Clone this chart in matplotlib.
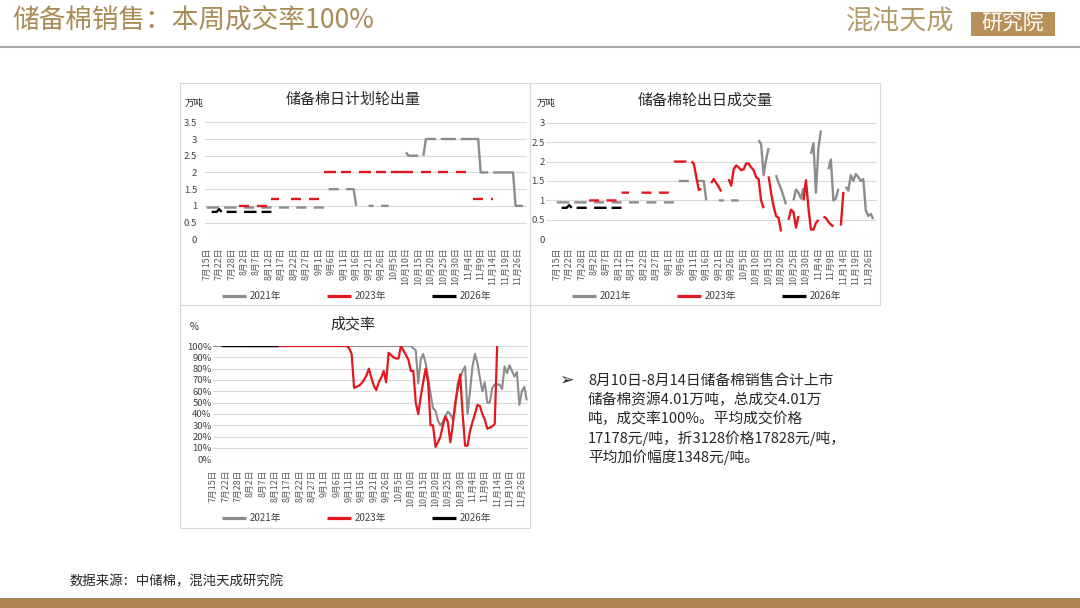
import numpy as np
import matplotlib
matplotlib.use('Agg')
import matplotlib.pyplot as plt
from matplotlib.lines import Line2D
from matplotlib.patches import Rectangle

plt.rcParams['font.family'] = ['Noto Sans CJK SC', 'DejaVu Sans']

W, H = 1080, 608
N = 128  # daily slots, 7/15 .. end of Nov

tick_labels = ['7月15日', '7月22日', '7月28日', '8月2日', '8月7日', '8月12日', '8月17日',
               '8月22日', '8月27日', '9月1日', '9月6日', '9月11日', '9月16日', '9月21日',
               '9月26日', '10月5日', '10月10日', '10月15日', '10月20日', '10月25日',
               '10月30日', '11月4日', '11月9日', '11月14日', '11月19日', '11月26日']

years = ['2021年', '2023年', '2026年']
colors = ['#8c8c8c', '#e3181f', '#000000']

# values per day; (value, count) = same value repeated, None = no auction that day
plan_2021 = [(0.95, 6), None, (0.95, 6), (None, 2), (0.95, 5), (None, 2), (0.95, 5), (None, 2),
             (0.95, 5), (None, 2), (0.95, 5), (None, 2), (0.95, 5), None,
             (1.5, 5), (None, 2), (1.5, 4), 1.0, (None, 4), (1.0, 3), (None, 2), (1.0, 4),
             (None, 6), 2.6, (2.5, 5), None, 2.5, (3.0, 5), None, (3.0, 7), None, (3.0, 8),
             (2.0, 4), None, (2.0, 9), (1.0, 4)]
plan_2023 = [(None, 13), (1.0, 5), (None, 2), (1.0, 5), None, (1.2, 4), (None, 4), (1.2, 5),
             (None, 2), (1.2, 5), None, (2.0, 6), None, (2.0, 5), (None, 2), (2.0, 6), None,
             (2.0, 5), None, (2.0, 10), (None, 2), (2.0, 5), (None, 2), (2.0, 5), (None, 2),
             (2.0, 5), (None, 2), (1.2, 5), (None, 2), (1.2, 2), (None, 12)]
plan_2026 = [(None, 2), 0.82, 0.82, 0.82, 0.9, 0.82, None, (0.82, 5), (None, 2), (0.82, 6),
             None, (0.82, 5), (None, 101)]

deal_2021 = [(0.95, 6), None, (0.95, 6), (None, 2), (0.95, 5), (None, 2), (0.95, 5), (None, 2),
             (0.95, 5), (None, 2), (0.95, 5), (None, 2), (0.95, 5), None,
             (1.5, 5), (None, 2), (1.5, 4), 1.0, (None, 4), (1.0, 3), (None, 2), (1.0, 4),
             (None, 7),
             2.55, 2.45, 1.65, 2.05, 2.35, (None, 2),
             1.65, 1.45, 1.3, 1.1, 0.9, (None, 2),
             1.0, 1.28, 1.2, 1.05, 1.32, (None, 2),
             2.2, 2.47, 1.2, 2.35, 2.8, (None, 2),
             1.8, 2.05, 1.0, 1.05, 1.3, (None, 2),
             1.35, 1.25, 1.65, 1.5, 1.68, 1.6, 1.5, 1.55, 0.75, 0.6, 0.65, 0.52]
deal_2023 = [(None, 13), (1.0, 5), (None, 2), (1.0, 5), None, (1.2, 4), (None, 4), (1.2, 5),
             (None, 2), (1.2, 5), None, (2.0, 6), None,
             2.0, 1.95, 1.6, 1.27, 1.3, (None, 3),
             1.45, 1.55, 1.45, 1.35, 1.23, (None, 2),
             1.55, 1.38, 1.8, 1.9, 1.85, 1.78, 1.8, 1.95, 1.95, 1.85, 1.78, 1.6, 1.55, 1.0, 0.8,
             None, 1.62, 1.2, 0.85, 0.6, 0.55, 0.2, (None, 2),
             0.5, 0.76, 0.7, 0.3, 0.6, None,
             1.0, 1.52, 0.8, 0.25, 0.25, 0.42, 0.5, None,
             0.58, 0.55, 0.45, 0.38, 0.33, (None, 2),
             0.35, 1.22, (None, 12)]
deal_2026 = [(None, 2), 0.81, 0.81, 0.81, 0.88, 0.81, None, (0.81, 5), (None, 2), (0.81, 6),
             None, (0.81, 5), (None, 101)]

rate_2021 = [(100, 81), 98, 96, 67, 88, 93, 85, 72, 58, 45, 43, 34, 30, 33, 38, 42, 40, 35, 45,
             67, 72, 78, 82, 40, 60, 82, 93, 85, 72, 60, 68, 50, 50, 63, 66, 66, 66, 62, 82, 76,
             83, 78, 73, 77, 48, 60, 64, 52]
rate_2023 = [(None, 13), (100, 42), 98, 93, 63, 64, 65, 67, 70, 74, 80, 72, 65, 61, 68, 72, 78,
             68, 94, 92, 90, 89, 89, 100, 96, 92, 88, 78, 78, 50, 40, 55, 68, 80, 68, 30, 30, 11,
             15, 20, 30, 38, 33, 15, 30, 50, 62, 75, 40, 12, 12, 25, 33, 40, 48, 47, 40, 35, 27,
             28, 29, 31, 100, (None, 12)]
rate_2026 = [(None, 3), (100, 24), (None, 101)]

text_lines = ['8月10日-8月14日储备棉销售合计上市',
              '储备棉资源4.01万吨，总成交4.01万',
              '吨，成交率100%。平均成交价格',
              '17178元/吨，折3128价格17828元/吨，',
              '平均加价幅度1348元/吨。']


def expand(runs):
    out = []
    for r in runs:
        if isinstance(r, tuple):
            out += [r[0]] * r[1]
        else:
            out.append(r)
    assert len(out) == N, len(out)
    return np.array([np.nan if v is None else v for v in out], dtype=float)


def fx(px):
    return px / W


def fy(py):
    return 1 - py / H


x = np.arange(N)
fig = plt.figure(figsize=(W / 100, H / 100), dpi=100)


def make_axes(l, t, r, b):
    return fig.add_axes([fx(l), fy(b), (r - l) / W, (b - t) / H])


def draw_chart(ax, series, widths, xlim, yticks, ylabels, ypad, xpad):
    for s, c, lw in zip(series, colors, widths):
        ax.plot(x, expand(s), color=c, lw=lw, solid_capstyle='butt', solid_joinstyle='round')
    ax.set_xlim(*xlim)
    ax.set_ylim(yticks[0], yticks[-1])
    for sp in ax.spines.values():
        sp.set_visible(False)
    ax.set_yticks(yticks)
    ax.set_yticklabels(ylabels)
    ax.yaxis.grid(True, color='#d9d9d9', lw=0.8)
    ax.set_axisbelow(True)
    ax.set_xticks(x[::5])
    ax.set_xticklabels(tick_labels, rotation=90)
    ax.tick_params(axis='x', length=0, labelsize=6.4, labelcolor='#595959', pad=xpad)
    ax.tick_params(axis='y', length=0, labelsize=6.8, labelcolor='#404040', pad=ypad)


def legend_at(px, py):
    handles = [Line2D([], [], color=c, lw=2.3, solid_capstyle='butt') for c in colors]
    fig.legend(handles, years, loc='center left', bbox_to_anchor=(fx(px), fy(py)),
               frameon=False, ncol=3, fontsize=7, handlelength=2.5, handletextpad=0.35,
               columnspacing=4.7, borderpad=0, borderaxespad=0, labelcolor='#404040')


# panel frames
for l, t, r, b in [(180, 83, 530, 305), (530, 83, 880, 305), (180, 305, 530, 528)]:
    fig.add_artist(Rectangle((fx(l), fy(b)), (r - l) / W, (b - t) / H, transform=fig.transFigure,
                             fill=False, ec='#d9d9d9', lw=0.8))

# chart 1: planned daily volume
ax1 = make_axes(205, 122.3, 527, 239.3)
yt1 = [0, 0.5, 1, 1.5, 2, 2.5, 3, 3.5]
draw_chart(ax1, [plan_2021, plan_2023, plan_2026], [1.7, 1.7, 1.7], (-0.7, 128.6),
           yt1, ['0', '0.5', '1', '1.5', '2', '2.5', '3', '3.5'], 5.8, 6.0)
fig.text(fx(353), fy(100), '储备棉日计划轮出量', fontsize=10.8, color='#262626', weight='medium',
         ha='center', va='center')
fig.text(fx(185), fy(103.5), '万吨', fontsize=6.8, color='#262626', ha='left', va='center')
legend_at(222, 296)

# chart 2: daily deal volume
ax2 = make_axes(546, 122.7, 877, 239.3)
yt2 = [0, 0.5, 1, 1.5, 2, 2.5, 3]
draw_chart(ax2, [deal_2021, deal_2023, deal_2026], [1.7, 1.7, 1.7], (-4.3, 128.5),
           yt2, ['0', '0.5', '1', '1.5', '2', '2.5', '3'], 1.0, 6.0)
fig.text(fx(705), fy(100), '储备棉轮出日成交量', fontsize=10.8, color='#262626', weight='medium',
         ha='center', va='center')
fig.text(fx(537), fy(103.5), '万吨', fontsize=6.8, color='#262626', ha='left', va='center')
legend_at(572, 296)

# chart 3: deal rate
ax3 = make_axes(213, 346, 528, 459.3)
yt3 = list(range(0, 101, 10))
draw_chart(ax3, [rate_2021, rate_2023, rate_2026], [1.5, 1.6, 1.0], (-0.2, 127.5),
           yt3, [f'{v}%' for v in yt3], 1.0, 7.0)
fig.text(fx(353), fy(324), '成交率', fontsize=10.8, color='#262626', weight='medium',
         ha='center', va='center')
fig.text(fx(190), fy(327), '%', fontsize=7, color='#262626', ha='left', va='center')
legend_at(222, 518.5)

# comment text
fig.text(fx(566), fy(380), '➢', family='DejaVu Sans', fontsize=12.5, color='#262626',
         ha='center', va='center')
for i, line in enumerate(text_lines):
    fig.text(fx(588), fy(381 + i * 19), line, fontsize=10.6, color='#262626', ha='left', va='center')

# header
fig.text(fx(12), fy(21), '储备棉销售：本周成交率100%', fontsize=19.2, color='#a88b57',
         ha='left', va='center')
fig.add_artist(Line2D([0, 1], [fy(47), fy(47)], transform=fig.transFigure, color='#a9a9a9', lw=1.5))
fig.text(fx(846), fy(22), '混沌天成', fontsize=19.5, color='#b39a6b', weight='light',
         ha='left', va='center')
fig.add_artist(Rectangle((fx(971), fy(36)), 84 / W, 24 / H, transform=fig.transFigure,
                         fc='#b8915a', ec='none'))
fig.text(fx(1013), fy(23.5), '研究院', fontsize=15, color='white', weight='light',
         ha='center', va='center')

# footer
fig.text(fx(70), fy(581), '数据来源：中储棉，混沌天成研究院', fontsize=9.6, color='#262626',
         ha='left', va='center')
fig.add_artist(Rectangle((0, 0), 1, 10 / H, transform=fig.transFigure, fc='#ad8653', ec='none'))

fig.savefig('out.png', dpi=100)
